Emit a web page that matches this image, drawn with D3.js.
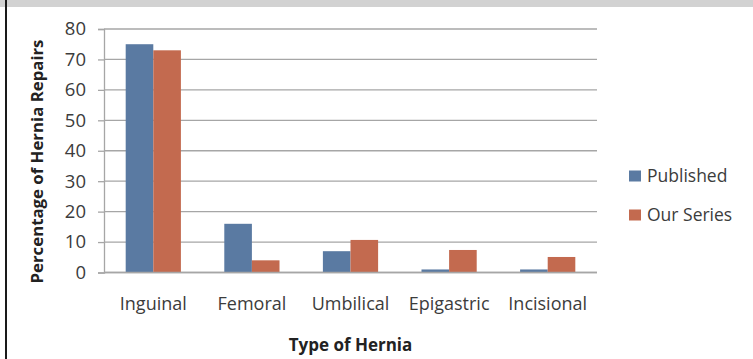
<!DOCTYPE html>
<html><head><meta charset="utf-8">
<script src="https://cdn.jsdelivr.net/npm/d3@7"></script>
<style>body{margin:0;background:#fff;}svg{display:block;}</style>
</head><body>
<script>
const categories = ["Inguinal","Femoral","Umbilical","Epigastric","Incisional"];
const seriesNames = ["Published","Our Series"];
const published = [75, 16, 7, 1, 1];
const ourSeries = [73, 4, 10.7, 7.4, 5.1];
const yTicks = [0,10,20,30,40,50,60,70,80];
const colors = ["#5a7aa2","#c36a4f"];

const W = 753, H = 359;
const svg = d3.select("body").append("svg").attr("width",W).attr("height",H);
svg.append("rect").attr("x",0).attr("y",0).attr("width",W).attr("height",H).attr("fill","#fff");
svg.append("rect").attr("x",0).attr("y",0).attr("width",W).attr("height",7).attr("fill","#d2d2d2");
svg.append("rect").attr("x",5).attr("y",0).attr("width",2).attr("height",H).attr("fill","#1a1a1a");

const mLeft = 104, mRight = 597, mTop = 29, mBottom = 272.5;
const x = d3.scaleBand().domain(categories).range([mLeft,mRight]).paddingInner(0.44).paddingOuter(0.22);
const x1 = d3.scaleBand().domain(seriesNames).range([0,x.bandwidth()]);
const y = d3.scaleLinear().domain([0,80]).range([mBottom,mTop]);

// gridlines
svg.append("g").selectAll("line").data(yTicks).join("line")
  .attr("x1",mLeft).attr("x2",mRight).attr("y1",d=>y(d)).attr("y2",d=>y(d))
  .attr("stroke","#a6a6a6").attr("stroke-width",1.3);

// y axis
const yAxis = svg.append("g").attr("transform",`translate(${mLeft},0)`)
  .call(d3.axisLeft(y).tickValues(yTicks).tickSize(6).tickPadding(12));
yAxis.select(".domain").attr("stroke","#a6a6a6").attr("stroke-width",1.3);
yAxis.selectAll(".tick line").attr("stroke","#a6a6a6").attr("stroke-width",1.3);
yAxis.selectAll("text").attr("font-family","Open Sans").attr("font-size",18.5).attr("fill","#3c3c3c");

// bars
const data = categories.map((c,i)=>({cat:c, vals:[published[i], ourSeries[i]]}));
const grp = svg.append("g").selectAll("g").data(data).join("g")
  .attr("transform",d=>`translate(${x(d.cat)},0)`);
grp.selectAll("rect").data(d=>d.vals.map((v,j)=>({s:seriesNames[j],v,j}))).join("rect")
  .attr("x",d=>x1(d.s)).attr("width",x1.bandwidth())
  .attr("y",d=>y(d.v)).attr("height",d=>y(0)-y(d.v))
  .attr("fill",d=>colors[d.j]);

// x axis
const xAxis = svg.append("g").attr("transform",`translate(0,${mBottom})`)
  .call(d3.axisBottom(x).tickSize(0).tickPadding(25));
xAxis.select(".domain").attr("stroke","#a6a6a6").attr("stroke-width",1.3).attr("d",`M${mLeft},0H${mRight}`);
xAxis.selectAll("text").attr("font-family","Open Sans").attr("font-size",18).attr("fill","#3c3c3c");

// axis titles
svg.append("text").attr("x",(mLeft+mRight)/2).attr("y",351)
  .attr("text-anchor","middle").attr("font-family","Open Sans").attr("font-weight","bold")
  .attr("font-size",17).attr("fill","#222").text("Type of Hernia");
svg.append("text").attr("transform","translate(43,161.5) rotate(-90)")
  .attr("text-anchor","middle").attr("font-family","Open Sans").attr("font-weight","bold")
  .attr("font-size",16.8).attr("fill","#222").text("Percentage of Hernia Repairs");

// legend
const leg = svg.append("g").selectAll("g").data(seriesNames).join("g")
  .attr("transform",(d,i)=>`translate(629,${176+i*39})`);
leg.append("rect").attr("x",0).attr("y",-5.5).attr("width",12).attr("height",11).attr("fill",(d,i)=>colors[i]);
leg.append("text").attr("x",18).attr("y",0).attr("dy","0.35em")
  .attr("font-family","Open Sans").attr("font-size",17.5).attr("fill","#3c3c3c").text(d=>d);
</script>
</body></html>
